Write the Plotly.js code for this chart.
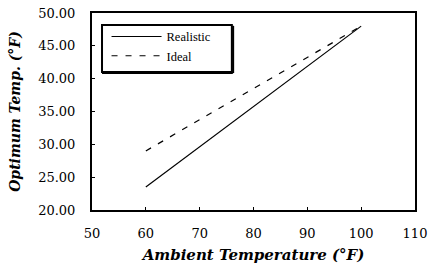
<!DOCTYPE html>
<html>
<head>
<meta charset="utf-8">
<script src="https://cdn.plot.ly/plotly-3.0.1.min.js"></script>
<style>html,body{margin:0;padding:0;background:#fff;}#chart{width:437px;height:267px;}</style>
</head>
<body>
<div id="chart"></div>
<script>
const ambientTemp = [60, 100];
const realistic = [23.5, 48.0];
const ideal = [29.0, 48.0];
const xTickVals = [50, 60, 70, 80, 90, 100, 110];
const yTickVals = [20, 25, 30, 35, 40, 45, 50];

const traces = [
  {x: ambientTemp, y: realistic, name: 'Realistic', type: 'scatter', mode: 'lines',
   line: {color: '#000', width: 1.2}},
  {x: ambientTemp, y: ideal, name: 'Ideal', type: 'scatter', mode: 'lines',
   line: {color: '#000', width: 1.2, dash: '6px,8px'}}
];

const serif = 'DejaVu Serif, serif';
const layout = {
  width: 437, height: 267,
  margin: {l: 92, r: 22, t: 13, b: 57},
  paper_bgcolor: '#fff', plot_bgcolor: '#fff',
  showlegend: true,
  legend: {x: 0.045, y: 0.955, xanchor: 'left', yanchor: 'top',
    bgcolor: 'rgba(0,0,0,0)', borderwidth: 0, itemwidth: 50,
    font: {family: 'Liberation Serif, serif', size: 12.5, color: '#000'}},
  xaxis: {range: [50, 110], tickvals: xTickVals, ticktext: xTickVals.map(String),
    ticks: 'inside', ticklen: 3, tickcolor: '#000', showgrid: false, zeroline: false,
    showline: true, linecolor: '#000', linewidth: 2, mirror: true,
    ticklabelstandoff: 10,
    tickfont: {family: serif, size: 13, color: '#000'},
    title: {text: 'Ambient Temperature (°F)', standoff: 10,
      font: {family: serif, size: 15, color: '#000', weight: 'bold', style: 'italic'}}},
  yaxis: {range: [20, 50], tickvals: yTickVals, ticktext: yTickVals.map(v => v.toFixed(2)),
    ticks: 'inside', ticklen: 3, tickcolor: '#000', showgrid: false, zeroline: false,
    showline: true, linecolor: '#000', linewidth: 2, mirror: true,
    ticklabelstandoff: 12,
    tickfont: {family: serif, size: 13, color: '#000'},
    title: {text: 'Optimum Temp. (°F)', standoff: 14,
      font: {family: serif, size: 14, color: '#000', weight: 'bold', style: 'italic'}}},
  shapes: [
    {type: 'rect', xref: 'paper', yref: 'paper', x0: 0.031, x1: 0.433, y0: 0.70, y1: 0.939,
     line: {color: '#000', width: 2}, fillcolor: 'rgba(0,0,0,0)'},
    {type: 'line', xref: 'paper', yref: 'paper', x0: 0.031, x1: 0.436, y0: 0.695, y1: 0.695,
     line: {color: '#000', width: 2}},
    {type: 'line', xref: 'paper', yref: 'paper', x0: 0.437, x1: 0.437, y0: 0.695, y1: 0.935,
     line: {color: '#000', width: 2}}
  ]
};

Plotly.newPlot('chart', traces, layout, {displayModeBar: false, staticPlot: true});
</script>
</body>
</html>
